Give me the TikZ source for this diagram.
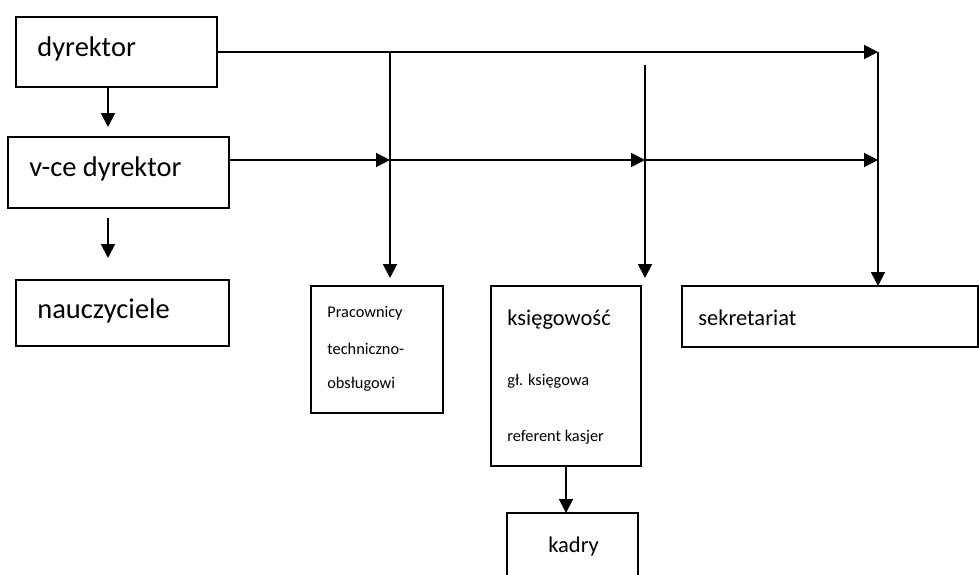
\documentclass[tikz,border=0pt]{standalone}
\usepackage{fontspec}
\setmainfont{Carlito}
\usetikzlibrary{arrows.meta}

\tikzset{
  box/.style={draw,line width=1.1pt,inner sep=0pt,outer sep=0pt,anchor=north west},
  txt/.style={inner sep=0pt,anchor=base west},
  big/.style={font=\fontsize{16.2}{19}\selectfont},
  mid/.style={font=\fontsize{12.8}{15}\selectfont},
  small/.style={font=\fontsize{9.3}{11}\selectfont},
  arr/.style={line width=1.1pt,-{Triangle[length=0.28cm,width=0.28cm]}}
}

\begin{document}
\begin{tikzpicture}[x=0.02cm,y=-0.02cm]
  \clip (0,0) rectangle (979,574);

  % Boxes
  \node[box,minimum width=4.02cm,minimum height=1.4cm] (dyr) at (16,17) {};
  \node[box,minimum width=4.42cm,minimum height=1.42cm] (vce) at (8,137) {};
  \node[box,minimum width=4.26cm,minimum height=1.32cm] (nau) at (16,280) {};
  \node[box,minimum width=2.64cm,minimum height=2.54cm] (prac) at (311,286) {};
  \node[box,minimum width=3.0cm,minimum height=3.6cm] (ksieg) at (491,286) {};
  \node[box,minimum width=5.92cm,minimum height=1.22cm] (sek) at (682,286) {};
  \node[box,minimum width=2.62cm,minimum height=1.8cm] (kadry) at (507,513) {};

  % Texts
  \node[txt,big] (tdyr) at (37,57) {dyrektor};
  \node[txt,big] (tvce) at (29,176) {v-ce dyrektor};
  \node[txt,big] (tnau) at (37,318) {nauczyciele};
  \node[txt,small] (tprac1) at (327,317) {Pracownicy};
  \node[txt,small] (tprac2) at (327,354) {techniczno-};
  \node[txt,small] (tprac3) at (327,388) {obsługowi};
  \node[txt,mid] (tksieg) at (507,325) {księgowość};
  \node[txt,small] (tglk) at (507,385) {gł. księgowa};
  \node[txt,small] (tref) at (507,441) {referent kasjer};
  \node[txt,mid] (tsek) at (698,325) {sekretariat};
  \node[txt,mid] (tkad) at (548,552) {kadry};

  % Bus points
  \coordinate (dv) at (108,0);
  \coordinate (jA) at (390,52);
  \coordinate (tR) at (878,52);
  \coordinate (mA) at (390,160);
  \coordinate (mB) at (645,160);
  \coordinate (mC) at (878,160);
  \coordinate (kTop) at (645,65);
  \coordinate (nTop) at (108,218);
  \coordinate (kd) at (566,0);

  % Arrows
  \draw[arr,shorten >=0.2cm] (dyr.south -| dv) -- (vce.north -| dv);
  \draw[arr,shorten >=0.44cm] (nTop) -- (nau.north -| nTop);
  \draw[arr] (dyr.east |- tR) -- (tR);
  \draw[arr] (tR) -- (sek.north -| tR);
  \draw[arr,shorten >=0.16cm] (jA) -- (prac.north -| jA);
  \draw[arr,shorten >=0.16cm] (kTop) -- (ksieg.north -| kTop);
  \draw[arr] (vce.east |- mA) -- (mA);
  \draw[arr] (mA) -- (mB);
  \draw[arr] (mB) -- (mC);
  \draw[arr] (ksieg.south -| kd) -- (kadry.north -| kd);
\end{tikzpicture}
\end{document}
